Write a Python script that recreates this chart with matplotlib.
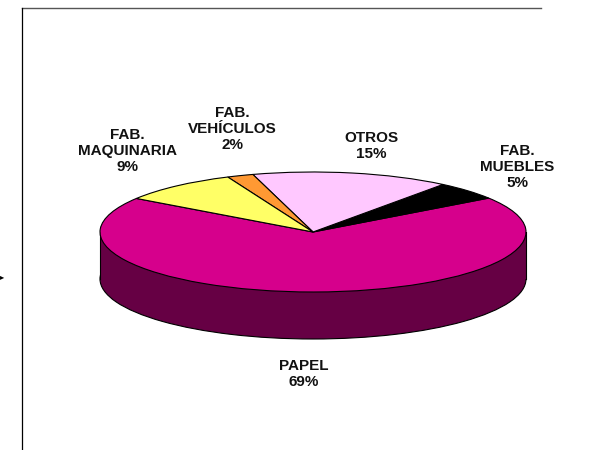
import matplotlib
matplotlib.use("Agg")
import matplotlib.pyplot as plt

plt.rcParams['font.family'] = ['Liberation Sans', 'DejaVu Sans']

# Data
sectors = ["PAPEL", "FAB.\nMUEBLES", "OTROS", "FAB.\nVEHÍCULOS", "FAB.\nMAQUINARIA"]
shares = [69, 5, 15, 2, 9]
colors = ["#D6008C", "#000000", "#FFC8FF", "#FF9933", "#FFFF66"]
side_color = "#660044"

W, H = 599, 450
fig = plt.figure(figsize=(W / 100, H / 100), dpi=100)

# pie axes, squashed so the circle turns into the tilted ellipse
cx, cy, rx, ry, depth = 313, 232, 213, 60, 47
ax = fig.add_axes([(cx - rx) / W, 1 - (cy + ry) / H, 2 * rx / W, 2 * ry / H])

# side wall first: lower pie plus a block up to the top face
ax.pie([1], colors=[side_color], center=(0, -depth / ry), radius=1, startangle=90,
       wedgeprops=dict(edgecolor="black", linewidth=0.8), frame=False)
ax.fill_between([-1, 1], [0, 0], [-depth / ry, -depth / ry], color=side_color, zorder=1.5, lw=0)
ax.plot([-1, -1], [0, -depth / ry], color="black", lw=0.8, zorder=1.6)
ax.plot([1, 1], [0, -depth / ry], color="black", lw=0.8, zorder=1.6)

# top face
wedges, _ = ax.pie(shares, colors=colors, startangle=146, radius=1,
                   wedgeprops=dict(edgecolor="black", linewidth=0.8), frame=False)
for w in wedges:
    w.set_zorder(3)
ax.set_aspect("auto")
ax.set_xlim(-1, 1)
ax.set_ylim(-1, 1)
for art in ax.patches + ax.lines:
    art.set_clip_on(False)
ax.axis("off")

# labels, centred on their pixel position in the picture
label_pos = [(304, 374), (517, 167), (371, 146), (232, 129), (127, 151)]
for name, pct, (px, py) in zip(sectors, shares, label_pos):
    fig.text(px / W, 1 - py / H, f"{name}\n{pct}%", ha="center", va="center",
             fontsize=11, fontweight="bold", color="#111111", linespacing=1.16)

# chart frame, only top and left sides show
fig.add_artist(plt.Line2D([22 / W, 541 / W], [1 - 8 / H, 1 - 8 / H], color="#555555", lw=1.0))
fig.add_artist(plt.Line2D([22 / W, 22 / W], [1 - 8 / H, 0], color="black", lw=0.9))

# stray arrow tip on the left edge
fig.text(0 / W, 1 - 278 / H, "▸", fontsize=6, va="center", ha="left", color="black")

fig.savefig("out.png", dpi=100)
